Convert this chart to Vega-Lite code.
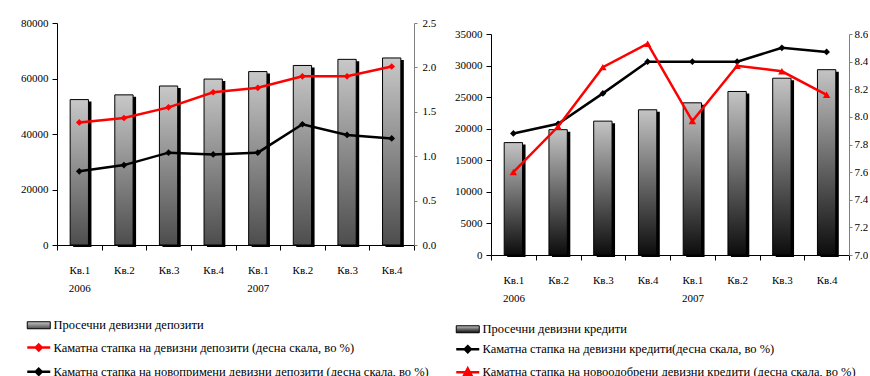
{
  "$schema": "https://vega.github.io/schema/vega-lite/v6.json",
  "background": "#ffffff",
  "padding": {"left": 20, "top": 17, "right": 0, "bottom": 0},
  "spacing": 18,
  "datasets": {
    "dep": [
      {"p": "Кв.1 2006", "v": 52400, "r1": 1.38, "r2": 0.83},
      {"p": "Кв.2 2006", "v": 54100, "r1": 1.43, "r2": 0.90},
      {"p": "Кв.3 2006", "v": 57300, "r1": 1.55, "r2": 1.04},
      {"p": "Кв.4 2006", "v": 59800, "r1": 1.72, "r2": 1.02},
      {"p": "Кв.1 2007", "v": 62500, "r1": 1.77, "r2": 1.04},
      {"p": "Кв.2 2007", "v": 64700, "r1": 1.90, "r2": 1.36},
      {"p": "Кв.3 2007", "v": 66900, "r1": 1.90, "r2": 1.24},
      {"p": "Кв.4 2007", "v": 67400, "r1": 2.01, "r2": 1.20}
    ],
    "kred": [
      {"p": "Кв.1 2006", "v": 17800, "r1": 7.88, "r2": 7.60},
      {"p": "Кв.2 2006", "v": 19850, "r1": 7.95, "r2": 7.93},
      {"p": "Кв.3 2006", "v": 21200, "r1": 8.17, "r2": 8.36},
      {"p": "Кв.4 2006", "v": 23000, "r1": 8.40, "r2": 8.53},
      {"p": "Кв.1 2007", "v": 24100, "r1": 8.40, "r2": 7.97},
      {"p": "Кв.2 2007", "v": 25900, "r1": 8.40, "r2": 8.37},
      {"p": "Кв.3 2007", "v": 28000, "r1": 8.50, "r2": 8.33},
      {"p": "Кв.4 2007", "v": 29350, "r1": 8.47, "r2": 8.16}
    ]
  },
  "hconcat": [
    {
      "width": 357,
      "height": 222,
      "data": {"name": "dep"},
      "encoding": {
        "x": {
          "field": "p", "type": "nominal", "sort": null,
          "scale": {"paddingInner": 0, "paddingOuter": 0},
          "axis": {"title": null, "labelAngle": 0, "tickBand": "extent", "labelPadding": 14, "labelLineHeight": 18,
                   "labelExpr": "indexof(datum.label, 'Кв.1') == 0 ? split(datum.label, ' ') : split(datum.label, ' ')[0]"}
        }
      },
      "layer": [
        {
          "encoding": {
            "y": {"field": "v", "type": "quantitative", "scale": {"domain": [0, 80000], "nice": false},
                  "axis": {"title": null, "values": [0, 20000, 40000, 60000, 80000], "format": "d", "labelPadding": 4}}
          },
          "layer": [
            {"mark": {"type": "bar", "color": "#000000", "width": {"band": 0.41}, "xOffset": 3, "yOffset": 2}},
            {"mark": {"type": "bar", "width": {"band": 0.41},
                      "fill": {"gradient": "linear", "x1": 0, "y1": 0, "x2": 0, "y2": 1,
                               "stops": [{"offset": 0, "color": "#c8c8c8"}, {"offset": 1, "color": "#4d4d4d"}]}},
             "encoding": {
               "stroke": {
                 "datum": "Просечни девизни депозити",
                 "scale": {"domain": ["Просечни девизни депозити", "Каматна стапка на девизни депозити (десна скала, во %)", "Каматна стапка на новопримени девизни депозити (десна скала, во %)"],
                           "range": ["#000000", "#ff0000", "#000000"]},
                 "legend": {
                   "title": null, "orient": "none", "legendX": -24.5, "legendY": 296, "direction": "vertical",
                   "symbolSize": 100, "rowPadding": 7.3, "labelOffset": 8.5, "padding": 0,
                   "symbolType": {"expr": "datum.index === 0 ? 'M-2.3,-0.7H2.3V0.7H-2.3Z' : 'M-2.3,0H2.3M0,-0.6L0.6,0L0,0.6L-0.6,0Z'"},
                   "symbolStrokeWidth": {"expr": "datum.index === 0 ? 1 : 2.5"},
                   "symbolOpacity": 1
                 }
               }
             }
            }
          ]
        },
        {
          "encoding": {
            "y": {"type": "quantitative", "scale": {"domain": [0, 2.5], "nice": false},
                  "axis": {"title": null, "orient": "right", "values": [0, 0.5, 1, 1.5, 2, 2.5], "format": ".1f",
                           "domainColor": "#808080", "tickColor": "#808080", "tickSize": 3, "labelPadding": 5}}
          },
          "layer": [
            {"mark": {"type": "line", "strokeWidth": 2.5, "color": "#ff0000"}, "encoding": {"y": {"field": "r1"}}},
            {"mark": {"type": "point", "shape": "diamond", "filled": true, "size": 45, "color": "#ff0000", "opacity": 1}, "encoding": {"y": {"field": "r1"}}},
            {"mark": {"type": "line", "strokeWidth": 2.5, "color": "#000000"}, "encoding": {"y": {"field": "r2"}}},
            {"mark": {"type": "point", "shape": "diamond", "filled": true, "size": 45, "color": "#000000", "opacity": 1}, "encoding": {"y": {"field": "r2"}}}
          ]
        }
      ],
      "resolve": {"scale": {"y": "independent"}}
    },
    {
      "spacing": 4,
      "vconcat": [
        {
          "width": 358,
          "height": 1,
          "data": {"name": "kred"},
          "mark": {"type": "rule", "opacity": 0},
          "encoding": {}
        },
        {
          "width": 358,
          "height": 221,
          "data": {"name": "kred"},
          "encoding": {
            "x": {
              "field": "p", "type": "nominal", "sort": null,
              "scale": {"paddingInner": 0, "paddingOuter": 0},
              "axis": {"title": null, "labelAngle": 0, "tickBand": "extent", "labelPadding": 14, "labelLineHeight": 18,
                       "labelExpr": "indexof(datum.label, 'Кв.1') == 0 ? split(datum.label, ' ') : split(datum.label, ' ')[0]"}
            }
          },
          "layer": [
            {
              "encoding": {
                "y": {"field": "v", "type": "quantitative", "scale": {"domain": [0, 35000], "nice": false},
                      "axis": {"title": null, "values": [0, 5000, 10000, 15000, 20000, 25000, 30000, 35000], "format": "d", "labelPadding": 4}}
              },
              "layer": [
                {"mark": {"type": "bar", "color": "#000000", "width": {"band": 0.41}, "xOffset": 3, "yOffset": 2}},
                {"mark": {"type": "bar", "width": {"band": 0.41},
                          "fill": {"gradient": "linear", "x1": 0, "y1": 0, "x2": 0, "y2": 1,
                                   "stops": [{"offset": 0, "color": "#c4c4c4"}, {"offset": 1, "color": "#0c0c0c"}]}},
                 "encoding": {
                   "stroke": {
                     "datum": "Просечни девизни кредити",
                     "scale": {"domain": ["Просечни девизни кредити", "Каматна стапка на девизни кредити(десна скала, во %)", "Каматна стапка на новоодобрени девизни кредити (десна скала, во %)"],
                               "range": ["#000000", "#000000", "#ff0000"]},
                     "legend": {
                       "title": null, "orient": "none", "legendX": -29.5, "legendY": 300, "direction": "vertical",
                       "symbolSize": 100, "rowPadding": 5, "labelOffset": 8.5, "padding": 0,
                       "symbolType": {"expr": "datum.index === 0 ? 'M-2.3,-0.7H2.3V0.7H-2.3Z' : (datum.index === 1 ? 'M-2.3,0H2.3M0,-0.6L0.6,0L0,0.6L-0.6,0Z' : 'M-2.3,0H2.3M0,-0.75L0.7,0.55L-0.7,0.55Z')"},
                       "symbolStrokeWidth": {"expr": "datum.index === 0 ? 1 : 2.5"},
                       "symbolOpacity": 1
                     }
                   }
                 }
                }
              ]
            },
            {
              "encoding": {
                "y": {"type": "quantitative", "scale": {"domain": [7.0, 8.6], "nice": false, "zero": false},
                      "axis": {"title": null, "orient": "right", "values": [7.0, 7.2, 7.4, 7.6, 7.8, 8.0, 8.2, 8.4, 8.6], "format": ".1f",
                               "domainColor": "#808080", "tickColor": "#808080", "tickSize": 3, "labelPadding": 2}}
              },
              "layer": [
                {"mark": {"type": "line", "strokeWidth": 2.5, "color": "#000000"}, "encoding": {"y": {"field": "r1"}}},
                {"mark": {"type": "point", "shape": "diamond", "filled": true, "size": 45, "color": "#000000", "opacity": 1}, "encoding": {"y": {"field": "r1"}}},
                {"mark": {"type": "line", "strokeWidth": 2.5, "color": "#ff0000"}, "encoding": {"y": {"field": "r2"}}},
                {"mark": {"type": "point", "shape": "triangle-up", "filled": true, "size": 55, "color": "#ff0000", "opacity": 1}, "encoding": {"y": {"field": "r2"}}}
              ]
            }
          ],
          "resolve": {"scale": {"y": "independent"}}
        }
      ]
    }
  ],
  "resolve": {"scale": {"stroke": "independent", "x": "independent"}, "legend": {"stroke": "independent"}},
  "config": {
    "view": {"stroke": null},
    "font": "Liberation Serif",
    "axis": {"labelFont": "Liberation Serif", "labelFontSize": 11, "labelColor": "#000000", "domainColor": "#000000",
             "tickColor": "#000000", "grid": false, "tickSize": 5, "domainWidth": 1, "tickWidth": 1},
    "legend": {"labelFont": "Liberation Serif", "labelFontSize": 12.5, "labelColor": "#000000", "labelLimit": 600}
  }
}
